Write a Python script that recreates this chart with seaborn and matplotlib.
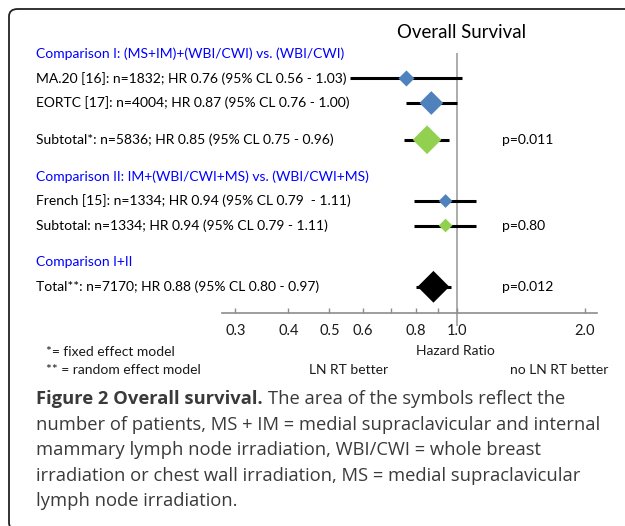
import numpy as np
import pandas as pd
import matplotlib
matplotlib.use("Agg")
import matplotlib.pyplot as plt
import seaborn as sns
from matplotlib.patches import FancyBboxPatch
from matplotlib.transforms import blended_transform_factory

# ---- data ----
headers = ["Comparison I: (MS+IM)+(WBI/CWI) vs. (WBI/CWI)",
           "Comparison II: IM+(WBI/CWI+MS) vs. (WBI/CWI+MS)",
           "Comparison I+II"]
row_labels = ["MA.20 [16]: n=1832; HR 0.76 (95% CL 0.56 - 1.03)",
              "EORTC [17]: n=4004; HR 0.87 (95% CL 0.76 - 1.00)",
              "Subtotal*: n=5836; HR 0.85 (95% CL 0.75 - 0.96)",
              "French [15]: n=1334; HR 0.94 (95% CL 0.79  - 1.11)",
              "Subtotal: n=1334; HR 0.94 (95% CL 0.79 - 1.11)",
              "Total**: n=7170; HR 0.88 (95% CL 0.80 - 0.97)"]
kind = ["study", "study", "subtotal", "study", "subtotal", "total"]
n_patients = [1832, 4004, 5836, 1334, 1334, 7170]
hr = [0.76, 0.87, 0.85, 0.94, 0.94, 0.88]
ci_low = [0.56, 0.76, 0.75, 0.79, 0.79, 0.80]
ci_high = [1.03, 1.00, 0.96, 1.11, 1.11, 0.97]
p_values = ["", "", "p=0.011", "", "p=0.80", "p=0.012"]
major_ticks = [0.3, 0.4, 0.5, 0.6, 0.8, 1.0, 2.0]
minor_ticks = [0.7, 0.9]

# layout: vertical slot of each header / row (in row units)
header_pos = [0, 5, 8.5]
row_pos = [1, 2, 3.5, 6, 7, 9.5]

df = pd.DataFrame({"label": row_labels, "kind": kind, "n": n_patients,
                   "hr": hr, "lo": ci_low, "hi": ci_high, "p": p_values,
                   "y": row_pos})

W, H = 625, 526
def fx(x):
    return x / W
def fy(y):
    return 1 - y / H

plt.rcParams["font.family"] = ["Lato", "DejaVu Sans"]

fig = plt.figure(figsize=(W / 100, H / 100), dpi=100)
ax = fig.add_axes([fx(222), fy(313), fx(597) - fx(222), fy(40) - fy(313)])

palette = {"study": "#4F81BD", "subtotal": "#92D050", "total": "#000000"}

# confidence intervals
ax.hlines(df["y"], df["lo"], df["hi"], color="black", lw=2.2, zorder=2)
# reference line at HR = 1
ax.vlines(1.0, -0.05, 11.1, color="#A6A6A6", lw=1.3, zorder=1, clip_on=False)

# diamonds, area proportional to number of patients
nmax = max(n_patients)
sns.scatterplot(data=df, x="hr", y="y", hue="kind", palette=palette,
                size="n", sizes=(0, 0.0365 * nmax), size_norm=(0, nmax),
                marker="D", linewidth=0, legend=False, zorder=3, ax=ax)

ax.set_xscale("log")
ax.set_xlim(0.279, 2.14)
ax.set_ylim(10.57, -0.57)
ax.set_xticks(major_ticks)
ax.set_xticklabels([f"{t:.1f}" for t in major_ticks])
ax.set_xticks(minor_ticks, minor=True)
ax.set_xticklabels([], minor=True)
ax.set_yticks([])
ax.set_xlabel("")
ax.set_ylabel("")
for side in ["top", "left", "right"]:
    ax.spines[side].set_visible(False)
ax.spines["bottom"].set_color("#8C8C8C")
ax.spines["bottom"].set_linewidth(1.2)
ax.tick_params(axis="x", which="both", direction="in", length=3.5,
               width=1, color="#8C8C8C", pad=8, labelsize=10.5,
               labelcolor="#1a1a1a")
ax.patch.set_alpha(0)

# texts to the left and right of the plot
tr = blended_transform_factory(fig.transFigure, ax.transData)
for h, y in zip(headers, header_pos):
    ax.text(fx(36), y, h, transform=tr, va="center", ha="left",
            color="#0000FF", fontsize=10)
for _, r in df.iterrows():
    ax.text(fx(36), r["y"], r["label"], transform=tr, va="center",
            ha="left", color="#000000", fontsize=10)
    if r["p"]:
        ax.text(fx(502), r["y"], r["p"], transform=tr, va="center",
                ha="left", color="#000000", fontsize=10)

fig.text(fx(462), fy(33), "Overall Survival", ha="center", va="center",
         fontsize=13.4, color="#000000")
fig.text(fx(455), fy(351), "Hazard Ratio", ha="center", va="center",
         fontsize=10, color="#1a1a1a")
fig.text(fx(46), fy(352), "*= fixed effect model", ha="left", va="center",
         fontsize=10, color="#1a1a1a")
fig.text(fx(46), fy(370), "** = random effect model", ha="left",
         va="center", fontsize=10, color="#1a1a1a")
fig.text(fx(349), fy(370), "LN RT better", ha="center", va="center",
         fontsize=10, color="#1a1a1a")
fig.text(fx(608), fy(370), "no LN RT better", ha="right", va="center",
         fontsize=10, color="#1a1a1a")

# caption
cap_font = "Open Sans"
cap_size = 13.2
cap_color = "#3a3a3a"
caption_lines = ["number of patients, MS + IM = medial supraclavicular and internal",
                 "mammary lymph node irradiation, WBI/CWI = whole breast",
                 "irradiation or chest wall irradiation, MS = medial supraclavicular",
                 "lymph node irradiation."]
bold = fig.text(fx(36), fy(399), "Figure 2 Overall survival.", ha="left",
                va="center", fontsize=cap_size, fontweight="bold",
                color=cap_color, family=cap_font)
renderer = fig.canvas.get_renderer()
bb = bold.get_window_extent(renderer=renderer)
fig.text(bb.x1 / (fig.dpi * fig.get_figwidth()) + fx(5), fy(399),
         "The area of the symbols reflect the", ha="left", va="center",
         fontsize=cap_size, color=cap_color, family=cap_font)
for i, line in enumerate(caption_lines):
    fig.text(fx(36), fy(425 + 25.3 * i), line, ha="left", va="center",
             fontsize=cap_size, color=cap_color, family=cap_font)

# rounded frame
frame = FancyBboxPatch((fx(9), fy(530)), fx(660) - fx(9), fy(9) - fy(530),
                       boxstyle="round,pad=0,rounding_size=0.014",
                       transform=fig.transFigure, fill=False,
                       edgecolor="#222222", lw=1.3, clip_on=False)
fig.patches.append(frame)

fig.savefig("out.png", dpi=100)
